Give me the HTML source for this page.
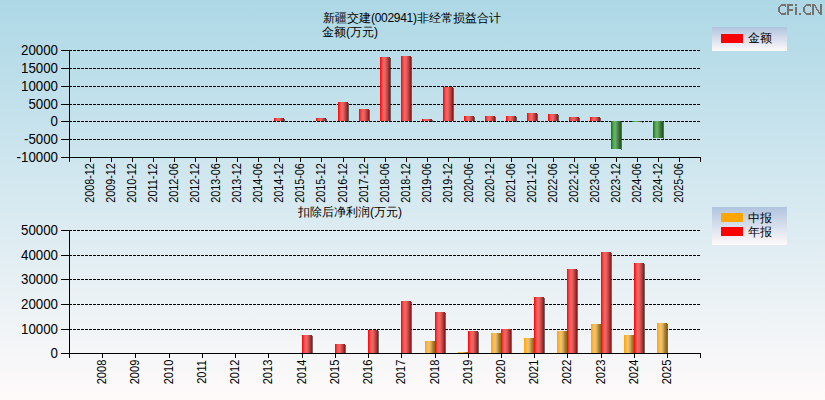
<!DOCTYPE html>
<html><head><meta charset="utf-8"><style>
html,body{margin:0;padding:0;}
body{width:825px;height:400px;position:relative;overflow:hidden;background:linear-gradient(to bottom,#add8e6 0px,#fffafa 400px);font-family:"Liberation Sans",sans-serif;color:#000;}
.b{position:absolute;width:10px;}
.sh{position:absolute;width:1px;background:rgba(0,0,0,0.55);}
.b.r{background:linear-gradient(to right,#ff1010 0px 1px,#ff3030 1px 2px,#ff5050 2px 3px,#f86060 3px 4px,#e86868 4px 5px,#e06060 5px 6px,#d05050 6px 7px,#c04040 7px 8px,#a83030 8px 9px,#902020 9px 10px);}
.b.o{background:linear-gradient(to right,#ffa810 0px 1px,#ffb030 1px 2px,#fcb848 2px 3px,#f8c060 3px 4px,#e8c070 4px 5px,#d8b068 5px 6px,#c8a058 6px 7px,#b08838 7px 8px,#a07828 8px 9px,#906818 9px 10px);}
.b.g{background:linear-gradient(to right,#108810 0px 1px,#309830 1px 2px,#50a850 2px 3px,#60b060 3px 4px,#70a870 4px 5px,#609860 5px 6px,#508850 6px 7px,#407840 7px 8px,#306830 8px 9px,#206020 9px 10px);}
.yl{position:absolute;left:0px;width:58px;text-align:right;font-size:14px;line-height:16px;height:16px;white-space:nowrap;transform:scaleX(0.95);transform-origin:58px 0;}
.xl1{position:absolute;top:177px;width:100px;height:12px;line-height:12px;font-size:12px;text-align:center;transform:rotate(-90deg) scaleX(0.9);white-space:nowrap;}
.xl2{position:absolute;top:366px;width:100px;height:12px;line-height:12px;font-size:12px;text-align:center;transform:rotate(-90deg) scaleX(0.92);white-space:nowrap;}
.t{position:absolute;font-size:12px;line-height:14px;white-space:nowrap;}
.leg{position:absolute;background:linear-gradient(to bottom,#b0c4de,#fffafa);}
.sw{position:absolute;width:22px;height:9px;}
</style></head><body>
<svg width="825" height="400" style="position:absolute;left:0;top:0" shape-rendering="crispEdges"><line x1="69" y1="50.5" x2="700" y2="50.5" stroke="#000" stroke-width="1" stroke-dasharray="3 1"/><line x1="69" y1="68.5" x2="700" y2="68.5" stroke="#000" stroke-width="1" stroke-dasharray="3 1"/><line x1="69" y1="86.5" x2="700" y2="86.5" stroke="#000" stroke-width="1" stroke-dasharray="3 1"/><line x1="69" y1="104.5" x2="700" y2="104.5" stroke="#000" stroke-width="1" stroke-dasharray="3 1"/><line x1="69" y1="121.5" x2="700" y2="121.5" stroke="#000" stroke-width="1" stroke-dasharray="3 1"/><line x1="69" y1="139.5" x2="700" y2="139.5" stroke="#000" stroke-width="1" stroke-dasharray="3 1"/><rect x="61" y="50" width="11" height="1" fill="#000"/><rect x="61" y="68" width="11" height="1" fill="#000"/><rect x="61" y="86" width="11" height="1" fill="#000"/><rect x="61" y="104" width="11" height="1" fill="#000"/><rect x="61" y="121" width="11" height="1" fill="#000"/><rect x="61" y="139" width="11" height="1" fill="#000"/><rect x="61" y="157" width="11" height="1" fill="#000"/><rect x="69" y="50" width="1" height="112" fill="#000"/><rect x="61" y="157" width="640" height="1" fill="#000"/><rect x="90" y="157" width="1" height="5" fill="#000"/><rect x="111" y="157" width="1" height="5" fill="#000"/><rect x="132" y="157" width="1" height="5" fill="#000"/><rect x="153" y="157" width="1" height="5" fill="#000"/><rect x="174" y="157" width="1" height="5" fill="#000"/><rect x="195" y="157" width="1" height="5" fill="#000"/><rect x="216" y="157" width="1" height="5" fill="#000"/><rect x="237" y="157" width="1" height="5" fill="#000"/><rect x="258" y="157" width="1" height="5" fill="#000"/><rect x="279" y="157" width="1" height="5" fill="#000"/><rect x="300" y="157" width="1" height="5" fill="#000"/><rect x="321" y="157" width="1" height="5" fill="#000"/><rect x="343" y="157" width="1" height="5" fill="#000"/><rect x="364" y="157" width="1" height="5" fill="#000"/><rect x="385" y="157" width="1" height="5" fill="#000"/><rect x="406" y="157" width="1" height="5" fill="#000"/><rect x="427" y="157" width="1" height="5" fill="#000"/><rect x="448" y="157" width="1" height="5" fill="#000"/><rect x="469" y="157" width="1" height="5" fill="#000"/><rect x="490" y="157" width="1" height="5" fill="#000"/><rect x="511" y="157" width="1" height="5" fill="#000"/><rect x="532" y="157" width="1" height="5" fill="#000"/><rect x="553" y="157" width="1" height="5" fill="#000"/><rect x="574" y="157" width="1" height="5" fill="#000"/><rect x="595" y="157" width="1" height="5" fill="#000"/><rect x="616" y="157" width="1" height="5" fill="#000"/><rect x="637" y="157" width="1" height="5" fill="#000"/><rect x="658" y="157" width="1" height="5" fill="#000"/><rect x="679" y="157" width="1" height="5" fill="#000"/><rect x="700" y="157" width="1" height="5" fill="#000"/><line x1="69" y1="230.5" x2="700" y2="230.5" stroke="#000" stroke-width="1" stroke-dasharray="3 1"/><line x1="69" y1="255.5" x2="700" y2="255.5" stroke="#000" stroke-width="1" stroke-dasharray="3 1"/><line x1="69" y1="279.5" x2="700" y2="279.5" stroke="#000" stroke-width="1" stroke-dasharray="3 1"/><line x1="69" y1="304.5" x2="700" y2="304.5" stroke="#000" stroke-width="1" stroke-dasharray="3 1"/><line x1="69" y1="329.5" x2="700" y2="329.5" stroke="#000" stroke-width="1" stroke-dasharray="3 1"/><rect x="61" y="230" width="11" height="1" fill="#000"/><rect x="61" y="255" width="11" height="1" fill="#000"/><rect x="61" y="279" width="11" height="1" fill="#000"/><rect x="61" y="304" width="11" height="1" fill="#000"/><rect x="61" y="329" width="11" height="1" fill="#000"/><rect x="61" y="353" width="11" height="1" fill="#000"/><rect x="69" y="230" width="1" height="128" fill="#000"/><rect x="61" y="353" width="640" height="1" fill="#000"/><rect x="102" y="353" width="1" height="5" fill="#000"/><rect x="135" y="353" width="1" height="5" fill="#000"/><rect x="169" y="353" width="1" height="5" fill="#000"/><rect x="202" y="353" width="1" height="5" fill="#000"/><rect x="235" y="353" width="1" height="5" fill="#000"/><rect x="268" y="353" width="1" height="5" fill="#000"/><rect x="302" y="353" width="1" height="5" fill="#000"/><rect x="335" y="353" width="1" height="5" fill="#000"/><rect x="368" y="353" width="1" height="5" fill="#000"/><rect x="401" y="353" width="1" height="5" fill="#000"/><rect x="435" y="353" width="1" height="5" fill="#000"/><rect x="468" y="353" width="1" height="5" fill="#000"/><rect x="501" y="353" width="1" height="5" fill="#000"/><rect x="534" y="353" width="1" height="5" fill="#000"/><rect x="567" y="353" width="1" height="5" fill="#000"/><rect x="601" y="353" width="1" height="5" fill="#000"/><rect x="634" y="353" width="1" height="5" fill="#000"/><rect x="667" y="353" width="1" height="5" fill="#000"/><rect x="700" y="353" width="1" height="5" fill="#000"/></svg>
<div class="b r" style="left:274px;top:118px;height:3px"></div><div class="sh" style="left:284px;top:119px;height:3px"></div><div class="b r" style="left:316px;top:118px;height:3px"></div><div class="sh" style="left:326px;top:119px;height:3px"></div><div class="b r" style="left:338px;top:102px;height:19px"></div><div class="sh" style="left:348px;top:103px;height:19px"></div><div class="b r" style="left:359px;top:109px;height:12px"></div><div class="sh" style="left:369px;top:110px;height:12px"></div><div class="b r" style="left:380px;top:57px;height:64px"></div><div class="sh" style="left:390px;top:58px;height:64px"></div><div class="b r" style="left:401px;top:56px;height:65px"></div><div class="sh" style="left:411px;top:57px;height:65px"></div><div class="b r" style="left:422px;top:119px;height:2px"></div><div class="sh" style="left:432px;top:120px;height:2px"></div><div class="b r" style="left:443px;top:87px;height:34px"></div><div class="sh" style="left:453px;top:88px;height:34px"></div><div class="b r" style="left:464px;top:116px;height:5px"></div><div class="sh" style="left:474px;top:117px;height:5px"></div><div class="b r" style="left:485px;top:116px;height:5px"></div><div class="sh" style="left:495px;top:117px;height:5px"></div><div class="b r" style="left:506px;top:116px;height:5px"></div><div class="sh" style="left:516px;top:117px;height:5px"></div><div class="b r" style="left:527px;top:113px;height:8px"></div><div class="sh" style="left:537px;top:114px;height:8px"></div><div class="b r" style="left:548px;top:114px;height:7px"></div><div class="sh" style="left:558px;top:115px;height:7px"></div><div class="b r" style="left:569px;top:117px;height:4px"></div><div class="sh" style="left:579px;top:118px;height:4px"></div><div class="b r" style="left:590px;top:117px;height:4px"></div><div class="sh" style="left:600px;top:118px;height:4px"></div><div class="b g" style="left:611px;top:121px;height:28px"></div><div class="sh" style="left:621px;top:122px;height:28px"></div><div class="b g" style="left:632px;top:121px;height:1px"></div><div class="sh" style="left:642px;top:122px;height:1px"></div><div class="b g" style="left:653px;top:121px;height:17px"></div><div class="sh" style="left:663px;top:122px;height:17px"></div><div class="b r" style="left:302px;top:335px;height:18px"></div><div class="sh" style="left:312px;top:336px;height:18px"></div><div class="b r" style="left:335px;top:344px;height:9px"></div><div class="sh" style="left:345px;top:345px;height:9px"></div><div class="b r" style="left:368px;top:330px;height:23px"></div><div class="sh" style="left:378px;top:331px;height:23px"></div><div class="b r" style="left:401px;top:301px;height:52px"></div><div class="sh" style="left:411px;top:302px;height:52px"></div><div class="b o" style="left:425px;top:341px;height:12px"></div><div class="sh" style="left:435px;top:342px;height:12px"></div><div class="b r" style="left:435px;top:312px;height:41px"></div><div class="sh" style="left:445px;top:313px;height:41px"></div><div class="b o" style="left:458px;top:352px;height:1px"></div><div class="sh" style="left:468px;top:353px;height:1px"></div><div class="b r" style="left:468px;top:331px;height:22px"></div><div class="sh" style="left:478px;top:332px;height:22px"></div><div class="b o" style="left:491px;top:333px;height:20px"></div><div class="sh" style="left:501px;top:334px;height:20px"></div><div class="b r" style="left:501px;top:329px;height:24px"></div><div class="sh" style="left:511px;top:330px;height:24px"></div><div class="b o" style="left:524px;top:338px;height:15px"></div><div class="sh" style="left:534px;top:339px;height:15px"></div><div class="b r" style="left:534px;top:297px;height:56px"></div><div class="sh" style="left:544px;top:298px;height:56px"></div><div class="b o" style="left:557px;top:331px;height:22px"></div><div class="sh" style="left:567px;top:332px;height:22px"></div><div class="b r" style="left:567px;top:269px;height:84px"></div><div class="sh" style="left:577px;top:270px;height:84px"></div><div class="b o" style="left:591px;top:324px;height:29px"></div><div class="sh" style="left:601px;top:325px;height:29px"></div><div class="b r" style="left:601px;top:252px;height:101px"></div><div class="sh" style="left:611px;top:253px;height:101px"></div><div class="b o" style="left:624px;top:335px;height:18px"></div><div class="sh" style="left:634px;top:336px;height:18px"></div><div class="b r" style="left:634px;top:263px;height:90px"></div><div class="sh" style="left:644px;top:264px;height:90px"></div><div class="b o" style="left:657px;top:323px;height:30px"></div><div class="sh" style="left:667px;top:324px;height:30px"></div>
<div class="yl" style="top:42px">20000</div><div class="yl" style="top:60px">15000</div><div class="yl" style="top:78px">10000</div><div class="yl" style="top:96px">5000</div><div class="yl" style="top:113px">0</div><div class="yl" style="top:131px">-5000</div><div class="yl" style="top:149px">-10000</div><div class="yl" style="top:222px">50000</div><div class="yl" style="top:247px">40000</div><div class="yl" style="top:271px">30000</div><div class="yl" style="top:296px">20000</div><div class="yl" style="top:321px">10000</div><div class="yl" style="top:345px">0</div><div class="xl1" style="left:40px">2008-12</div><div class="xl1" style="left:61px">2009-12</div><div class="xl1" style="left:82px">2010-12</div><div class="xl1" style="left:103px">2011-12</div><div class="xl1" style="left:124px">2012-06</div><div class="xl1" style="left:145px">2012-12</div><div class="xl1" style="left:166px">2013-06</div><div class="xl1" style="left:187px">2013-12</div><div class="xl1" style="left:208px">2014-06</div><div class="xl1" style="left:229px">2014-12</div><div class="xl1" style="left:250px">2015-06</div><div class="xl1" style="left:271px">2015-12</div><div class="xl1" style="left:293px">2016-12</div><div class="xl1" style="left:314px">2017-12</div><div class="xl1" style="left:335px">2018-06</div><div class="xl1" style="left:356px">2018-12</div><div class="xl1" style="left:377px">2019-06</div><div class="xl1" style="left:398px">2019-12</div><div class="xl1" style="left:419px">2020-06</div><div class="xl1" style="left:440px">2020-12</div><div class="xl1" style="left:461px">2021-06</div><div class="xl1" style="left:482px">2021-12</div><div class="xl1" style="left:503px">2022-06</div><div class="xl1" style="left:524px">2022-12</div><div class="xl1" style="left:545px">2023-06</div><div class="xl1" style="left:566px">2023-12</div><div class="xl1" style="left:587px">2024-06</div><div class="xl1" style="left:608px">2024-12</div><div class="xl1" style="left:629px">2025-06</div><div class="xl2" style="left:52px">2008</div><div class="xl2" style="left:85px">2009</div><div class="xl2" style="left:119px">2010</div><div class="xl2" style="left:152px">2011</div><div class="xl2" style="left:185px">2012</div><div class="xl2" style="left:218px">2013</div><div class="xl2" style="left:252px">2014</div><div class="xl2" style="left:285px">2015</div><div class="xl2" style="left:318px">2016</div><div class="xl2" style="left:351px">2017</div><div class="xl2" style="left:385px">2018</div><div class="xl2" style="left:418px">2019</div><div class="xl2" style="left:451px">2020</div><div class="xl2" style="left:484px">2021</div><div class="xl2" style="left:517px">2022</div><div class="xl2" style="left:551px">2023</div><div class="xl2" style="left:584px">2024</div><div class="xl2" style="left:617px">2025</div>
<div class="t" style="left:323px;top:11px">新疆交建<span style="letter-spacing:-0.3px">(002941)</span>非经常损益合计</div>
<div class="t" style="left:322px;top:25px">金额(万元)</div>
<div class="t" style="left:298px;top:205px">扣除后净利润(万元)</div>
<div class="leg" style="left:712px;top:27px;width:75px;height:24px"></div>
<div class="sw" style="left:721px;top:34px;background:#f00"></div>
<div class="t" style="left:748px;top:31px">金额</div>
<div class="leg" style="left:712px;top:207px;width:75px;height:38px"></div>
<div class="sw" style="left:721px;top:213px;background:#ffa500"></div>
<div class="sw" style="left:721px;top:227px;background:#f00"></div>
<div class="t" style="left:748px;top:211px">中报</div>
<div class="t" style="left:748px;top:225px">年报</div>
<svg width="825" height="20" style="position:absolute;left:0;top:0" shape-rendering="crispEdges"><g fill="#78726e"><rect x="778" y="7" width="1" height="1"/><rect x="778" y="8" width="1" height="1"/><rect x="778" y="9" width="1" height="1"/><rect x="778" y="10" width="1" height="1"/><rect x="778" y="11" width="1" height="1"/><rect x="779" y="6" width="1" height="1"/><rect x="779" y="7" width="1" height="1"/><rect x="779" y="8" width="1" height="1"/><rect x="779" y="9" width="1" height="1"/><rect x="779" y="10" width="1" height="1"/><rect x="779" y="11" width="1" height="1"/><rect x="779" y="12" width="1" height="1"/><rect x="780" y="5" width="1" height="1"/><rect x="780" y="6" width="1" height="1"/><rect x="780" y="12" width="1" height="1"/><rect x="780" y="13" width="1" height="1"/><rect x="781" y="4" width="1" height="1"/><rect x="781" y="5" width="1" height="1"/><rect x="781" y="13" width="1" height="1"/><rect x="781" y="14" width="1" height="1"/><rect x="782" y="4" width="1" height="1"/><rect x="782" y="5" width="1" height="1"/><rect x="782" y="13" width="1" height="1"/><rect x="782" y="14" width="1" height="1"/><rect x="783" y="4" width="1" height="1"/><rect x="783" y="5" width="1" height="1"/><rect x="783" y="13" width="1" height="1"/><rect x="783" y="14" width="1" height="1"/><rect x="784" y="4" width="1" height="1"/><rect x="784" y="5" width="1" height="1"/><rect x="784" y="13" width="1" height="1"/><rect x="784" y="14" width="1" height="1"/><rect x="785" y="4" width="1" height="1"/><rect x="785" y="5" width="1" height="1"/><rect x="785" y="6" width="1" height="1"/><rect x="785" y="12" width="1" height="1"/><rect x="785" y="13" width="1" height="1"/><rect x="785" y="14" width="1" height="1"/><rect x="787" y="4" width="1" height="1"/><rect x="787" y="5" width="1" height="1"/><rect x="787" y="6" width="1" height="1"/><rect x="787" y="7" width="1" height="1"/><rect x="787" y="8" width="1" height="1"/><rect x="787" y="9" width="1" height="1"/><rect x="787" y="10" width="1" height="1"/><rect x="787" y="11" width="1" height="1"/><rect x="787" y="12" width="1" height="1"/><rect x="787" y="13" width="1" height="1"/><rect x="787" y="14" width="1" height="1"/><rect x="788" y="4" width="1" height="1"/><rect x="788" y="5" width="1" height="1"/><rect x="788" y="6" width="1" height="1"/><rect x="788" y="7" width="1" height="1"/><rect x="788" y="8" width="1" height="1"/><rect x="788" y="9" width="1" height="1"/><rect x="788" y="10" width="1" height="1"/><rect x="788" y="11" width="1" height="1"/><rect x="788" y="12" width="1" height="1"/><rect x="788" y="13" width="1" height="1"/><rect x="788" y="14" width="1" height="1"/><rect x="789" y="4" width="1" height="1"/><rect x="789" y="5" width="1" height="1"/><rect x="789" y="9" width="1" height="1"/><rect x="789" y="10" width="1" height="1"/><rect x="790" y="4" width="1" height="1"/><rect x="790" y="5" width="1" height="1"/><rect x="790" y="9" width="1" height="1"/><rect x="790" y="10" width="1" height="1"/><rect x="791" y="4" width="1" height="1"/><rect x="791" y="5" width="1" height="1"/><rect x="791" y="9" width="1" height="1"/><rect x="791" y="10" width="1" height="1"/><rect x="792" y="4" width="1" height="1"/><rect x="792" y="5" width="1" height="1"/><rect x="792" y="9" width="1" height="1"/><rect x="792" y="10" width="1" height="1"/><rect x="795" y="4" width="1" height="1"/><rect x="795" y="5" width="1" height="1"/><rect x="795" y="7" width="1" height="1"/><rect x="795" y="8" width="1" height="1"/><rect x="795" y="9" width="1" height="1"/><rect x="795" y="10" width="1" height="1"/><rect x="795" y="11" width="1" height="1"/><rect x="795" y="12" width="1" height="1"/><rect x="795" y="13" width="1" height="1"/><rect x="795" y="14" width="1" height="1"/><rect x="796" y="4" width="1" height="1"/><rect x="796" y="5" width="1" height="1"/><rect x="796" y="7" width="1" height="1"/><rect x="796" y="8" width="1" height="1"/><rect x="796" y="9" width="1" height="1"/><rect x="796" y="10" width="1" height="1"/><rect x="796" y="11" width="1" height="1"/><rect x="796" y="12" width="1" height="1"/><rect x="796" y="13" width="1" height="1"/><rect x="796" y="14" width="1" height="1"/><rect x="799" y="13" width="1" height="1"/><rect x="799" y="14" width="1" height="1"/><rect x="800" y="13" width="1" height="1"/><rect x="800" y="14" width="1" height="1"/><rect x="803" y="7" width="1" height="1"/><rect x="803" y="8" width="1" height="1"/><rect x="803" y="9" width="1" height="1"/><rect x="803" y="10" width="1" height="1"/><rect x="803" y="11" width="1" height="1"/><rect x="804" y="6" width="1" height="1"/><rect x="804" y="7" width="1" height="1"/><rect x="804" y="8" width="1" height="1"/><rect x="804" y="9" width="1" height="1"/><rect x="804" y="10" width="1" height="1"/><rect x="804" y="11" width="1" height="1"/><rect x="804" y="12" width="1" height="1"/><rect x="805" y="5" width="1" height="1"/><rect x="805" y="6" width="1" height="1"/><rect x="805" y="12" width="1" height="1"/><rect x="805" y="13" width="1" height="1"/><rect x="806" y="4" width="1" height="1"/><rect x="806" y="5" width="1" height="1"/><rect x="806" y="13" width="1" height="1"/><rect x="806" y="14" width="1" height="1"/><rect x="807" y="4" width="1" height="1"/><rect x="807" y="5" width="1" height="1"/><rect x="807" y="13" width="1" height="1"/><rect x="807" y="14" width="1" height="1"/><rect x="808" y="4" width="1" height="1"/><rect x="808" y="5" width="1" height="1"/><rect x="808" y="13" width="1" height="1"/><rect x="808" y="14" width="1" height="1"/><rect x="809" y="4" width="1" height="1"/><rect x="809" y="5" width="1" height="1"/><rect x="809" y="13" width="1" height="1"/><rect x="809" y="14" width="1" height="1"/><rect x="810" y="4" width="1" height="1"/><rect x="810" y="5" width="1" height="1"/><rect x="810" y="6" width="1" height="1"/><rect x="810" y="12" width="1" height="1"/><rect x="810" y="13" width="1" height="1"/><rect x="810" y="14" width="1" height="1"/><rect x="812" y="4" width="1" height="1"/><rect x="812" y="5" width="1" height="1"/><rect x="812" y="6" width="1" height="1"/><rect x="812" y="7" width="1" height="1"/><rect x="812" y="8" width="1" height="1"/><rect x="812" y="9" width="1" height="1"/><rect x="812" y="10" width="1" height="1"/><rect x="812" y="11" width="1" height="1"/><rect x="812" y="12" width="1" height="1"/><rect x="812" y="13" width="1" height="1"/><rect x="812" y="14" width="1" height="1"/><rect x="813" y="4" width="1" height="1"/><rect x="813" y="5" width="1" height="1"/><rect x="813" y="6" width="1" height="1"/><rect x="813" y="7" width="1" height="1"/><rect x="813" y="8" width="1" height="1"/><rect x="813" y="9" width="1" height="1"/><rect x="813" y="10" width="1" height="1"/><rect x="813" y="11" width="1" height="1"/><rect x="813" y="12" width="1" height="1"/><rect x="813" y="13" width="1" height="1"/><rect x="813" y="14" width="1" height="1"/><rect x="814" y="4" width="1" height="1"/><rect x="814" y="5" width="1" height="1"/><rect x="815" y="5" width="1" height="1"/><rect x="815" y="6" width="1" height="1"/><rect x="815" y="7" width="1" height="1"/><rect x="816" y="7" width="1" height="1"/><rect x="816" y="8" width="1" height="1"/><rect x="816" y="9" width="1" height="1"/><rect x="817" y="9" width="1" height="1"/><rect x="817" y="10" width="1" height="1"/><rect x="818" y="10" width="1" height="1"/><rect x="818" y="11" width="1" height="1"/><rect x="818" y="12" width="1" height="1"/><rect x="819" y="12" width="1" height="1"/><rect x="819" y="13" width="1" height="1"/><rect x="820" y="4" width="1" height="1"/><rect x="820" y="5" width="1" height="1"/><rect x="820" y="6" width="1" height="1"/><rect x="820" y="7" width="1" height="1"/><rect x="820" y="8" width="1" height="1"/><rect x="820" y="9" width="1" height="1"/><rect x="820" y="10" width="1" height="1"/><rect x="820" y="11" width="1" height="1"/><rect x="820" y="12" width="1" height="1"/><rect x="820" y="13" width="1" height="1"/><rect x="820" y="14" width="1" height="1"/><rect x="821" y="4" width="1" height="1"/><rect x="821" y="5" width="1" height="1"/><rect x="821" y="6" width="1" height="1"/><rect x="821" y="7" width="1" height="1"/><rect x="821" y="8" width="1" height="1"/><rect x="821" y="9" width="1" height="1"/><rect x="821" y="10" width="1" height="1"/><rect x="821" y="11" width="1" height="1"/><rect x="821" y="12" width="1" height="1"/><rect x="821" y="13" width="1" height="1"/><rect x="821" y="14" width="1" height="1"/></g></svg>
</body></html>
